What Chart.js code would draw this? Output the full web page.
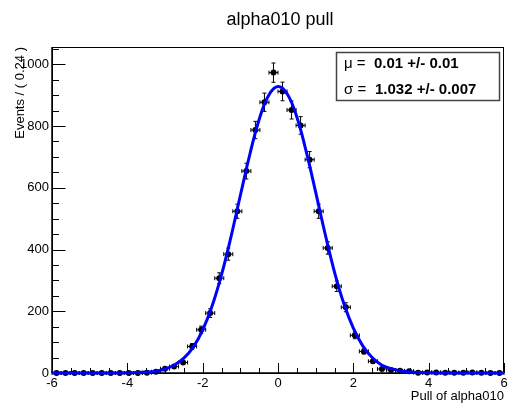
<!DOCTYPE html>
<html>
<head>
<meta charset="utf-8">
<script src="https://cdn.jsdelivr.net/npm/chart.js@4.4.1/dist/chart.umd.min.js"></script>
<style>
  body { margin: 0; background: #fff; }
  canvas { display: block; }
</style>
</head>
<body>
<canvas id="pullChart" width="508" height="407"></canvas>
<script>
// Binned pull distribution (bin width 0.24)
const binCenters = [
  -5.88, -5.64, -5.40, -5.16, -4.92, -4.68, -4.44, -4.20, -3.96, -3.72,
  -3.48, -3.24, -3.00, -2.76, -2.52, -2.28, -2.04, -1.80, -1.56, -1.32,
  -1.08, -0.84, -0.60, -0.36, -0.12, 0.12, 0.36, 0.60, 0.84, 1.08,
  1.32, 1.56, 1.80, 2.04, 2.28, 2.52, 2.76, 3.00, 3.24, 3.48,
  3.72, 3.96, 4.20, 4.44, 4.68, 4.92, 5.16, 5.40, 5.64, 5.88
];
const eventCounts = [
  0, 0, 0, 0, 0, 0, 0, 0, 0, 0,
  1, 4, 14, 21, 34, 86, 140, 194, 307, 385,
  524, 654, 787, 877, 973, 912, 852, 802, 691, 524,
  405, 281, 213, 122, 70, 38, 13, 10, 7, 6,
  1, 2, 2, 1, 1, 1, 2, 1, 0, 0
];
const binHalfWidth = 0.12;

// Fitted gaussian curve
const fitX = [-6, -4.5, -4, -3.75, -3.5, -3.25, -3, -2.75, -2.5, -2.25, -2, -1.75, -1.5, -1.25, -1, -0.75,
  -0.5, -0.25, 0, 0.25, 0.5, 0.75, 1, 1.25, 1.5, 1.75, 2, 2.25, 2.5, 2.75, 3, 3.25, 3.5, 3.75, 4, 4.5, 6];
const fitY = [0, 0, 0.5, 1.3, 3, 6, 13, 26, 48, 84, 139, 217, 318, 440, 575, 707,
  821, 899, 928, 903, 829, 717, 586, 451, 327, 224, 145, 88, 50, 26, 14, 7, 3, 1.3, 0.5, 0, 0];

const xTicks = [-6, -4, -2, 0, 2, 4, 6];
const yTicks = [0, 200, 400, 600, 800, 1000];
const yMax = 1056;

const fitMean = '0.01 +/- 0.01';
const fitSigma = '1.032 +/- 0.007';

const FONT = '"Liberation Sans", Arial, Helvetica, sans-serif';

const rootStyle = {
    id: 'rootStyle',
    beforeDatasetsDraw(chart) {
        const { ctx, chartArea: a, scales: { x, y } } = chart;
        ctx.save();
        // frame
        ctx.strokeStyle = '#000';
        ctx.lineWidth = 1;
        ctx.strokeRect(a.left + 0.5, a.top + 0.5, a.right - a.left - 1, a.bottom - a.top);
        ctx.lineWidth = 1.5;
        ctx.beginPath();
        ctx.moveTo(a.left, a.bottom); ctx.lineTo(a.right, a.bottom);
        ctx.moveTo(a.left, a.bottom); ctx.lineTo(a.left, a.top);
        ctx.stroke();

        // x ticks (major + 3 minor per interval)
        ctx.lineWidth = 1;
        ctx.beginPath();
        for (let i = 0; i < xTicks.length; i++) {
            const px = Math.round(x.getPixelForValue(xTicks[i])) + 0.5;
            ctx.moveTo(px, a.bottom); ctx.lineTo(px, a.bottom - 10);
            if (i < xTicks.length - 1) {
                const step = (xTicks[i + 1] - xTicks[i]) / 4;
                for (let k = 1; k < 4; k++) {
                    const mx = Math.round(x.getPixelForValue(xTicks[i] + k * step)) + 0.5;
                    ctx.moveTo(mx, a.bottom); ctx.lineTo(mx, a.bottom - 5);
                }
            }
        }
        // y ticks
        const yStep = (yTicks[1] - yTicks[0]) / 4;
        for (let v = 0; v <= yMax; v += yStep) {
            const py = Math.round(y.getPixelForValue(v)) + 0.5;
            const major = yTicks.includes(v);
            ctx.moveTo(a.left, py); ctx.lineTo(a.left + (major ? 13.5 : 7), py);
        }
        ctx.stroke();

        // tick labels
        ctx.fillStyle = '#000';
        ctx.font = '13px ' + FONT;
        ctx.textAlign = 'center';
        ctx.textBaseline = 'alphabetic';
        xTicks.forEach(t => ctx.fillText(String(t), x.getPixelForValue(t), a.bottom + 14));
        ctx.textAlign = 'right';
        ctx.textBaseline = 'middle';
        yTicks.forEach(t => ctx.fillText(String(t), a.left - 3, y.getPixelForValue(t)));

        // axis titles
        ctx.textAlign = 'right';
        ctx.textBaseline = 'alphabetic';
        ctx.fillText('Pull of alpha010', a.right, a.bottom + 27);
        ctx.save();
        ctx.translate(24, a.top);
        ctx.rotate(-Math.PI / 2);
        ctx.fillText('Events / ( 0.24 )', 0, 0);
        ctx.restore();

        // title
        ctx.textAlign = 'center';
        ctx.font = '18px ' + FONT;
        ctx.fillText('alpha010 pull', 280, 25);

        // error bars
        ctx.lineWidth = 1;
        ctx.strokeStyle = '#000';
        ctx.beginPath();
        binCenters.forEach((c, i) => {
            const n = eventCounts[i];
            const err = n > 0 ? Math.sqrt(n) : 1.15;
            const px = x.getPixelForValue(c);
            const py = y.getPixelForValue(n);
            const x0 = x.getPixelForValue(c - binHalfWidth);
            const x1 = x.getPixelForValue(c + binHalfWidth);
            const yHi = y.getPixelForValue(n + err);
            const yLo = y.getPixelForValue(Math.max(0, n - err));
            ctx.moveTo(x0, py); ctx.lineTo(x1, py);
            ctx.moveTo(x0, py - 2); ctx.lineTo(x0, py + 2);
            ctx.moveTo(x1, py - 2); ctx.lineTo(x1, py + 2);
            ctx.moveTo(px, yHi); ctx.lineTo(px, yLo);
            ctx.moveTo(px - 2, yHi); ctx.lineTo(px + 2, yHi);
            ctx.moveTo(px - 2, yLo); ctx.lineTo(px + 2, yLo);
        });
        ctx.stroke();
        ctx.restore();
    },
    afterDraw(chart) {
        const { ctx } = chart;
        ctx.save();
        // parameter box
        ctx.fillStyle = '#fff';
        ctx.fillRect(336, 52, 164, 49);
        ctx.strokeStyle = '#444';
        ctx.lineWidth = 1.5;
        ctx.strokeRect(336.5, 52.5, 163, 48);
        ctx.fillStyle = '#000';
        ctx.textAlign = 'left';
        ctx.textBaseline = 'alphabetic';
        ctx.font = '15px ' + FONT;
        ctx.fillText('\u03bc =', 344, 68);
        ctx.fillText('\u03c3 =', 344, 94);
        ctx.font = 'bold 15px ' + FONT;
        ctx.fillText(fitMean, 374, 68);
        ctx.fillText(fitSigma, 375, 94);
        ctx.restore();
    }
};

new Chart(document.getElementById('pullChart'), {
    data: {
        datasets: [
            {
                type: 'line',
                label: 'fit',
                data: fitX.map((v, i) => ({ x: v, y: fitY[i] })),
                borderColor: '#0000ff',
                borderWidth: 3,
                pointRadius: 0,
                tension: 0.4,
                clip: false,
                order: 0
            },
            {
                type: 'scatter',
                label: 'data',
                data: binCenters.map((v, i) => ({ x: v, y: eventCounts[i] })),
                backgroundColor: '#000',
                borderColor: '#000',
                pointRadius: 3,
                borderWidth: 0,
                clip: false,
                order: 1
            }
        ]
    },
    options: {
        responsive: false,
        animation: false,
        layout: { padding: { left: 52, top: 47, right: 3, bottom: 34 } },
        plugins: { legend: { display: false }, tooltip: { enabled: false } },
        scales: {
            x: { type: 'linear', min: -6, max: 6, display: false },
            y: { type: 'linear', min: 0, max: yMax, display: false }
        }
    },
    plugins: [rootStyle]
});
</script>
</body>
</html>
